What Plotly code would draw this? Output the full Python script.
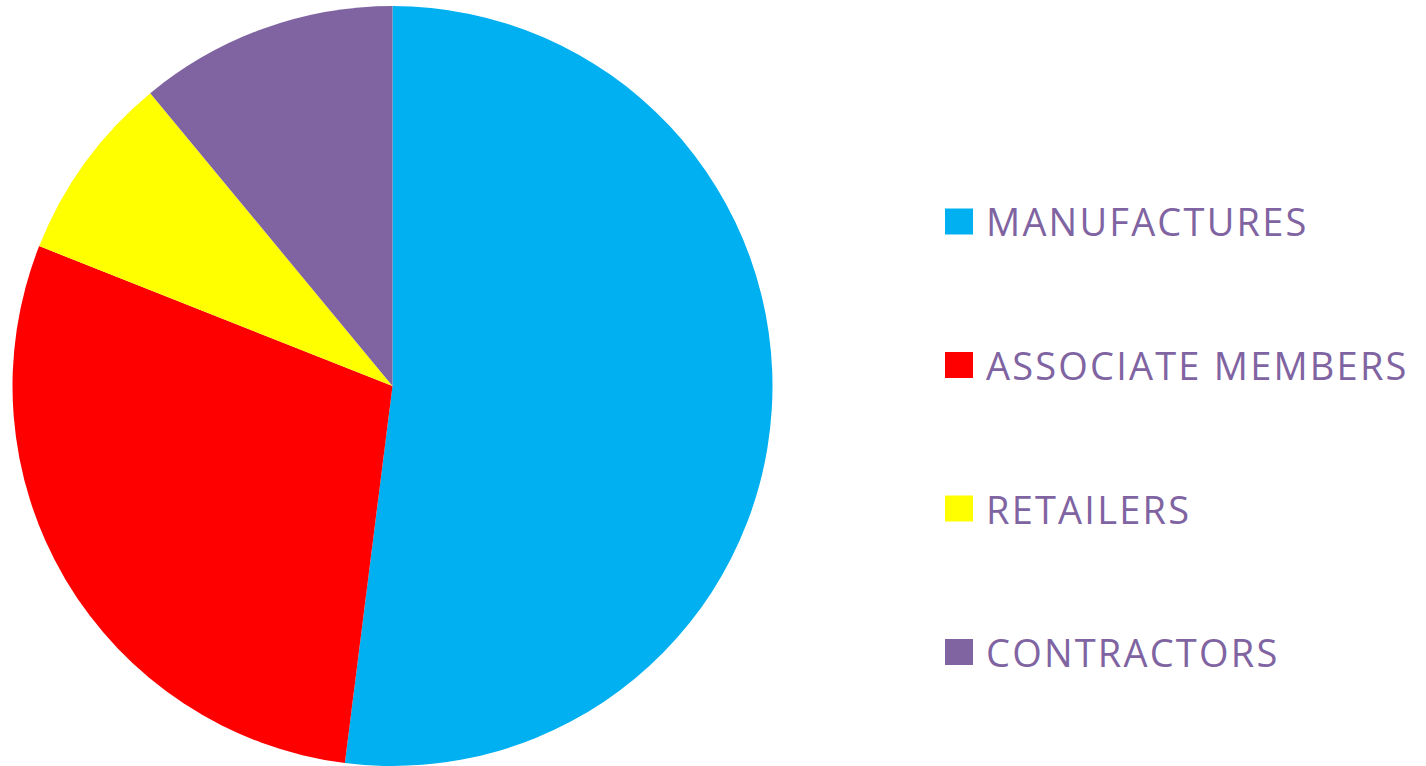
import plotly.graph_objects as go

labels = ["MANUFACTURES", "ASSOCIATE MEMBERS", "RETAILERS", "CONTRACTORS"]
values = [52, 29, 8, 11]
colors = ["#00B0F0", "#FF0000", "#FFFF00", "#8064A2"]
text_color = "#8064A2"

W, H = 1426, 766


def px(x):
    return x / W


def py(y):
    return 1 - y / H


fig = go.Figure(go.Pie(
    labels=labels,
    values=values,
    sort=False,
    direction="clockwise",
    rotation=0,
    marker=dict(colors=colors, line=dict(width=0)),
    textinfo="none",
    hoverinfo="label+percent",
    showlegend=False,
    domain=dict(x=[px(12.5), px(772.5)], y=[0, py(6)]),
))

legend_y = [221.5, 365, 508.5, 652]
for lab, col, yc in zip(labels, colors, legend_y):
    fig.add_shape(type="rect", xref="paper", yref="paper",
                  x0=px(945), x1=px(973),
                  y0=py(yc + 13), y1=py(yc - 13),
                  fillcolor=col, line=dict(width=0))
    fig.add_annotation(xref="paper", yref="paper", x=px(984), y=py(yc),
                       xanchor="left", yanchor="middle", showarrow=False,
                       text=f"<span style='letter-spacing:2.2px'>{lab}</span>",
                       font=dict(family="Open Sans", size=38, color=text_color))

fig.update_layout(
    width=W, height=H,
    margin=dict(l=0, r=0, t=0, b=0),
    paper_bgcolor="white",
    plot_bgcolor="white",
)

fig.write_html("out.html", config={"displayModeBar": False},
               post_script="document.body.style.margin='0px';")
